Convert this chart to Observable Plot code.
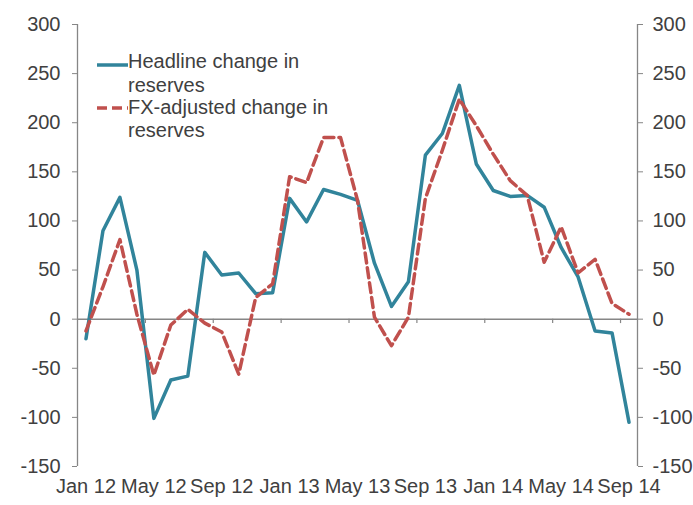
<!DOCTYPE html>
<html>
<head>
<meta charset="utf-8">
<script src="https://cdn.jsdelivr.net/npm/d3@7"></script>
<script src="https://cdn.jsdelivr.net/npm/@observablehq/plot@0.6"></script>
<style>
  html, body { margin: 0; padding: 0; background: #ffffff; }
  #wrap { position: relative; width: 693px; height: 505px; overflow: hidden; }
  #legend { position: absolute; left: 0; top: 0; pointer-events: none; }
</style>
</head>
<body>
<div id="wrap"><div id="chart"></div><svg id="legend" width="693" height="505"></svg></div>
<script>
// ---- data ----
const months = ["Jan 12","Feb 12","Mar 12","Apr 12","May 12","Jun 12","Jul 12","Aug 12","Sep 12","Oct 12","Nov 12","Dec 12",
  "Jan 13","Feb 13","Mar 13","Apr 13","May 13","Jun 13","Jul 13","Aug 13","Sep 13","Oct 13","Nov 13","Dec 13",
  "Jan 14","Feb 14","Mar 14","Apr 14","May 14","Jun 14","Jul 14","Aug 14","Sep 14"];
const headline = [-20, 90, 124, 50, -101, -62, -58, 68, 45, 47, 26, 27,
  123, 99, 132, 127, 121, 57, 13, 38, 167, 189, 238, 158,
  131, 125, 126, 114, 73, 43, -12, -14, -105];
const fxAdjusted = [-12, 33, 81, 5, -57, -6, 10, -4, -13, -56, 22, 36,
  145, 139, 185, 185, 121, 2, -27, 2, 123, 172, 224, 197,
  168, 141, 126, 58, 94, 47, 61, 16, 5];
const xTickLabels = ["Jan 12","May 12","Sep 12","Jan 13","May 13","Sep 13","Jan 14","May 14","Sep 14"];
const yTicks = [-150, -100, -50, 0, 50, 100, 150, 200, 250, 300];
const seriesNames = ["Headline change in reserves", "FX-adjusted change in reserves"];
const legendLines = [["Headline change in", "reserves"], ["FX-adjusted change in", "reserves"]];

// ---- styles ----
const teal = "#31849B";
const red = "#C0504D";
const gray = "#868686";
const textColor = "#404040";
const font = "'Liberation Sans', Arial, sans-serif";

const rows = months.map((m, i) => ({month: m, headline: headline[i], fx: fxAdjusted[i]}));

const W = 693, H = 505, mL = 77, mR = 56, mT = 24, mB = 39;
const step = (W - mL - mR) / months.length;
const boundaryTicks = months.filter((d, i) => i > 0 && i % 4 === 0);

const chart = Plot.plot({
  width: W, height: H,
  marginLeft: mL, marginRight: mR, marginTop: mT, marginBottom: mB,
  style: {fontFamily: font, fontSize: "20px", color: textColor, background: "white"},
  x: {type: "point", domain: months, padding: 0.5, label: null},
  y: {domain: [-150, 300], label: null},
  marks: [
    Plot.ruleY([0], {stroke: gray, strokeWidth: 1.5}),
    Plot.ruleX(boundaryTicks, {y1: 0, y2: -4.5, dx: -step / 2, stroke: gray, strokeWidth: 1.2}),
    Plot.ruleX([months[0]], {y1: -150, y2: 300, dx: -step / 2, stroke: gray, strokeWidth: 1.3}),
    Plot.ruleX([months[months.length - 1]], {y1: -150, y2: 300, dx: step / 2, stroke: gray, strokeWidth: 1.3}),
    Plot.axisY({anchor: "left", ticks: yTicks, tickSize: 5, tickPadding: 12, tickFormat: d => String(d), stroke: gray, fill: textColor}),
    Plot.axisY({anchor: "right", ticks: yTicks, tickSize: 5, tickPadding: 10, tickFormat: d => String(d), stroke: gray, fill: textColor}),
    Plot.axisX({ticks: xTickLabels, tickSize: 0, tickPadding: 12, fill: textColor}),
    Plot.line(rows, {x: "month", y: "headline", stroke: teal, strokeWidth: 3.5, strokeLinejoin: "round"}),
    Plot.line(rows, {x: "month", y: "fx", stroke: red, strokeWidth: 3.5, strokeDasharray: "10,5", strokeLinejoin: "round"})
  ]
});
document.getElementById("chart").appendChild(chart);

// ---- legend (inside plot area, top-left) ----
const leg = d3.select("#legend");
const legendSpec = [
  {name: seriesNames[0], lines: legendLines[0], color: teal, dash: null, lineY: 65, baselines: [68, 92]},
  {name: seriesNames[1], lines: legendLines[1], color: red, dash: "10,5", lineY: 108, baselines: [114, 137]}
];
legendSpec.forEach(s => {
  const g = leg.append("g").attr("aria-label", s.name);
  g.append("line").attr("x1", 97).attr("x2", 128).attr("y1", s.lineY).attr("y2", s.lineY)
    .attr("stroke", s.color).attr("stroke-width", 3.5)
    .attr("stroke-dasharray", s.dash);
  s.lines.forEach((t, j) => {
    g.append("text").attr("x", 128).attr("y", s.baselines[j])
      .attr("font-family", font).attr("font-size", 20).attr("fill", textColor).text(t);
  });
});
</script>
</body>
</html>
